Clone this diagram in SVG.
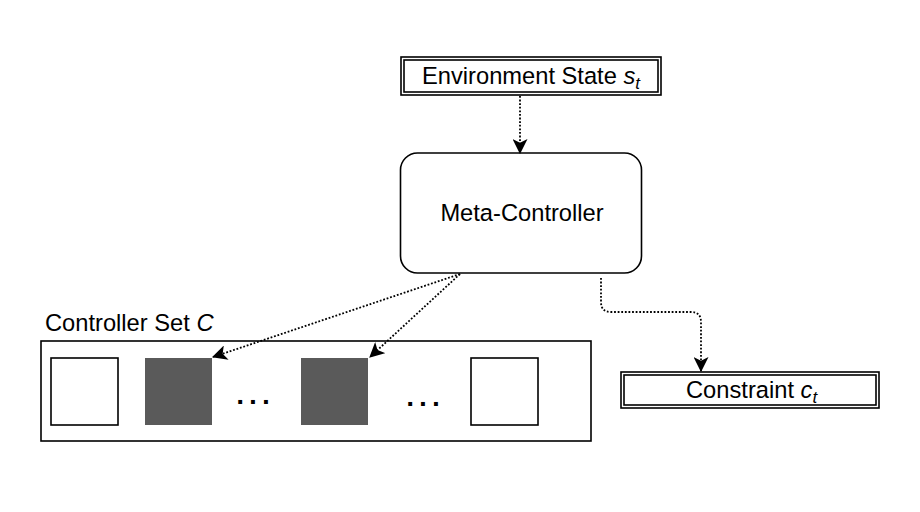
<svg xmlns="http://www.w3.org/2000/svg" width="920" height="512" viewBox="0 0 920 512">
<style>
text{font-family:"Liberation Sans",Arial,sans-serif;font-size:23.7px;fill:#000}
.b{fill:#fff;stroke:#000;stroke-width:1.6}
.d{fill:#5a5a5a;stroke:none}
.c{fill:none;stroke:#000;stroke-width:1.8;stroke-dasharray:1.8 1.8}
.i{font-style:italic}
.s{font-size:17px;font-style:italic}
.e{font-family:"DejaVu Sans",sans-serif;font-size:22px;font-weight:bold;letter-spacing:4.5px}
</style>
<defs>
<marker id="ah" viewBox="0 0 14 14" refX="13" refY="7" markerWidth="15" markerHeight="15" markerUnits="userSpaceOnUse" orient="auto">
<path d="M0,0 L14,7 L0,14 L3.5,7 Z" fill="#000"/>
</marker>
</defs>
<g id="env">
<rect class="b" x="401" y="57" width="260" height="38"/>
<rect class="b" x="404" y="60" width="254" height="32"/>
<text x="422" y="84">Environment State <tspan class="i">s</tspan><tspan class="s" dy="5">t</tspan></text>
</g>
<g id="meta">
<rect class="b" x="400.5" y="153" width="241" height="120" rx="17"/>
<text x="522" y="221" text-anchor="middle">Meta-Controller</text>
</g>
<g id="set">
<text x="45" y="331">Controller Set <tspan class="i">C</tspan></text>
<rect class="b" x="41" y="341" width="550" height="100"/>
<rect class="b" x="51" y="358" width="67" height="67"/>
<rect class="d" x="145" y="358" width="67" height="67"/>
<text class="e" x="236" y="404">...</text>
<rect class="d" x="301" y="358" width="67" height="67"/>
<text class="e" x="406" y="406">...</text>
<rect class="b" x="471" y="358" width="67" height="67"/>
</g>
<g id="constraint">
<rect class="b" x="621" y="372" width="258" height="36"/>
<rect class="b" x="624" y="375" width="252" height="30"/>
<text x="686" y="398">Constraint <tspan class="i">c</tspan><tspan class="s" dy="5">t</tspan></text>
</g>
<g id="connectors">
<path class="c" d="M520,96 L520,153" marker-end="url(#ah)"/>
<path class="c" d="M460,274 L213,357" marker-end="url(#ah)"/>
<path class="c" d="M460,274 L370,357" marker-end="url(#ah)"/>
<path class="c" d="M601,278 L601,302 Q601,312 611,312 L691,312 Q701,312 701,322 L701,371" marker-end="url(#ah)"/>
</g>
</svg>
